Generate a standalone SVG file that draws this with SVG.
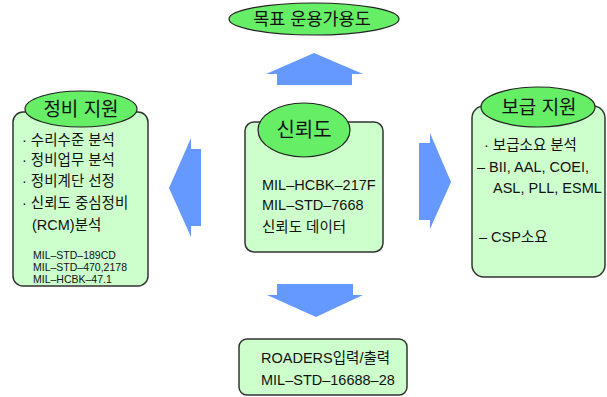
<svg xmlns="http://www.w3.org/2000/svg" width="607" height="397" viewBox="0 0 607 397">
<style>
.box{fill:#ccffcc;stroke:#333;stroke-width:1.5}
.ell{fill:#66ee66;stroke:#222;stroke-width:1.2}
.arr{fill:#6699ff;stroke:none}
text{font-family:"Liberation Sans","Noto Sans CJK KR",sans-serif;fill:#111}
.t{font-size:14.5px}
.s{font-size:10.5px}
.h{font-size:19px;text-anchor:middle}
</style>
<g id="connectors">
<polygon class="arr" points="314,53 363,74 352,74 352,85 277,85 277,74 266,74"/>
<polygon class="arr" points="277,284 353,284 353,295 363,295 316,317 267,295 277,295"/>
<polygon class="arr" points="169,188 191,138 191,149 201,149 201,226 191,226 191,237"/>
<polygon class="arr" points="451,182 430,133 430,143 419,143 419,220 430,220 430,229"/>
</g>
<g id="goal">
<ellipse class="ell" cx="314" cy="19" rx="85" ry="16"/>
<text class="h" x="312" y="25" style="font-size:17.5px">목표 운용가용도</text>
</g>
<g id="maintenance">
<rect class="box" x="13" y="112" width="135" height="174" rx="10"/>
<ellipse class="ell" cx="81" cy="109" rx="56" ry="18"/>
<text class="h" x="81" y="116">정비 지원</text>
<text class="t" x="22" y="145">· 수리수준 분석</text>
<text class="t" x="22" y="165">· 정비업무 분석</text>
<text class="t" x="22" y="186">· 정비계단 선정</text>
<text class="t" x="22" y="208">· 신뢰도 중심정비</text>
<text class="t" x="32" y="230">(RCM)분석</text>
<text class="s" x="33" y="259">MIL–STD–189CD</text>
<text class="s" x="33" y="271">MIL–STD–470,2178</text>
<text class="s" x="33" y="283">MIL–HCBK–47.1</text>
</g>
<g id="reliability">
<rect class="box" x="245" y="122" width="138" height="130" rx="9"/>
<ellipse class="ell" cx="304" cy="130" rx="46" ry="27"/>
<text class="h" x="304" y="137" style="font-size:20px">신뢰도</text>
<text class="t" x="262" y="190">MIL–HCBK–217F</text>
<text class="t" x="262" y="210">MIL–STD–7668</text>
<text class="t" x="262" y="232">신뢰도 데이터</text>
</g>
<g id="supply">
<rect class="box" x="472" y="106" width="133" height="171" rx="12"/>
<ellipse class="ell" cx="538" cy="107" rx="57" ry="20"/>
<text class="h" x="539" y="114">보급 지원</text>
<text class="t" x="484" y="150">· 보급소요 분석</text>
<text class="t" x="477" y="172">– BII, AAL, COEI,</text>
<text class="t" x="493" y="193">ASL, PLL, ESML</text>
<text class="t" x="479" y="242">– CSP소요</text>
</g>
<g id="roaders">
<rect class="box" x="239" y="339" width="168" height="56" rx="8"/>
<text class="t" x="261" y="363">ROADERS입력/출력</text>
<text class="t" x="261" y="385">MIL–STD–16688–28</text>
</g>
</svg>
